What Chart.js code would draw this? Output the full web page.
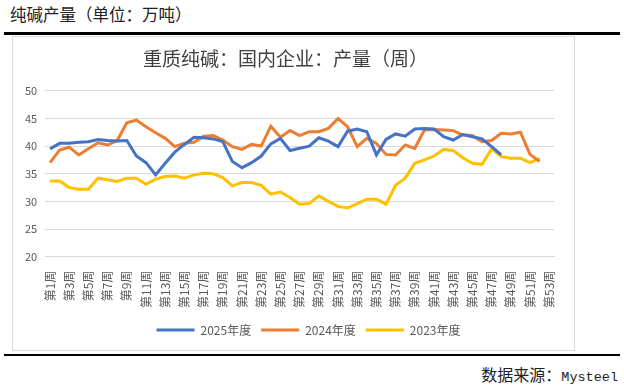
<!DOCTYPE html>
<html>
<head>
<meta charset="utf-8">
<script src="https://cdn.jsdelivr.net/npm/chart.js@4.4.1/dist/chart.umd.min.js"></script>
<style>
  html, body { margin: 0; padding: 0; background: #fff; }
  body { width: 624px; height: 386px; position: relative; overflow: hidden; font-family: "Noto Sans CJK SC", sans-serif; }
  #hdr { position: absolute; left: 10px; top: 2px; font-size: 16.5px; color: #222; line-height: 24px; }
  #line1 { position: absolute; left: 4px; top: 32px; width: 616px; height: 2.5px; background: #000; }
  #box { position: absolute; left: 12px; top: 36px; width: 563px; height: 315px; border: 1px solid #d9d9d9; box-sizing: border-box; }
  #box canvas { position: absolute; left: 0; top: 0; }
  #line2 { position: absolute; left: 4px; top: 354px; width: 616px; height: 2px; background: #000; }
  #src { position: absolute; right: 6px; top: 362px; font-size: 16px; color: #222; line-height: 24px; }
  #src .m { font-family: "Liberation Mono", monospace; font-size: 13.5px; }
</style>
</head>
<body>
<div id="hdr">纯碱产量（单位：万吨）</div>
<div id="line1"></div>
<div id="box"><canvas id="c" width="561" height="313"></canvas></div>
<div id="line2"></div>
<div id="src">数据来源：<span class="m">Mysteel</span></div>
<script>
const weeks = ["第1周","第2周","第3周","第4周","第5周","第6周","第7周","第8周","第9周","第10周",
  "第11周","第12周","第13周","第14周","第15周","第16周","第17周","第18周","第19周","第20周",
  "第21周","第22周","第23周","第24周","第25周","第26周","第27周","第28周","第29周","第30周",
  "第31周","第32周","第33周","第34周","第35周","第36周","第37周","第38周","第39周","第40周",
  "第41周","第42周","第43周","第44周","第45周","第46周","第47周","第48周","第49周","第50周",
  "第51周","第52周","第53周"];

const y2025 = [39.5,40.5,40.5,40.7,40.8,41.2,41.0,40.9,41.0,38.2,
  37.0,34.8,36.9,38.9,40.3,41.6,41.5,41.3,40.8,37.2,
  36.1,37.0,38.2,40.4,41.4,39.2,39.6,40.0,41.5,40.9,
  39.9,42.7,43.1,42.6,38.4,41.2,42.2,41.8,43.1,43.2,
  43.1,41.7,41.1,42.1,41.7,41.3,39.9,38.4,null,null,
  null,null,null];

const y2024 = [37.0,39.3,39.8,38.4,39.5,40.6,40.2,41.0,44.2,44.7,
  43.5,42.4,41.4,39.9,40.5,40.7,41.8,41.9,41.1,39.9,
  39.4,40.3,40.0,43.6,41.6,42.8,41.9,42.6,42.6,43.2,
  45.0,43.5,39.9,41.4,40.5,38.5,38.4,40.2,39.6,42.9,
  43.0,42.9,42.8,42.0,41.9,40.8,41.0,42.3,42.2,42.5,
  38.5,37.2,null];

const y2023 = [33.7,33.7,32.5,32.2,32.2,34.2,33.9,33.6,34.2,34.2,
  33.1,34.0,34.5,34.6,34.2,34.8,35.1,35.0,34.3,32.8,
  33.4,33.4,32.9,31.3,31.7,30.7,29.5,29.6,31.0,30.0,
  29.1,28.8,29.6,30.4,30.4,29.5,32.9,34.2,36.9,37.5,
  38.2,39.4,39.2,37.9,36.9,36.7,39.5,38.1,37.8,37.8,
  37.0,37.8,null];

const yTicks = [20,25,30,35,40,45,50];

const series = [
  { label: "2025年度", data: y2025, color: "#4472C4" },
  { label: "2024年度", data: y2024, color: "#ED7D31" },
  { label: "2023年度", data: y2023, color: "#FFC000" }
];

const FONT = "'Noto Sans CJK SC', sans-serif";

const legendShift = {
  id: "legendShift",
  afterLayout(chart) {
    if (chart.legend) { chart.legend.left += 23; chart.legend.right += 23; }
  }
};

new Chart(document.getElementById("c"), {
  type: "line",
  data: {
    labels: weeks,
    datasets: series.map(s => ({
      label: s.label,
      data: s.data,
      borderColor: s.color,
      backgroundColor: s.color,
      borderWidth: 3,
      pointRadius: 0,
      pointHoverRadius: 0,
      tension: 0,
      spanGaps: false
    }))
  },
  plugins: [legendShift],
  options: {
    responsive: false,
    animation: false,
    events: [],
    layout: { padding: { left: 4, right: 20, top: 0, bottom: 4 } },
    plugins: {
      title: {
        display: true,
        text: "重质纯碱：国内企业：产量（周）",
        color: "#404040",
        font: { family: FONT, size: 19, weight: "normal" },
        padding: { top: 10, bottom: 21 }
      },
      legend: {
        position: "bottom",
        labels: {
          usePointStyle: true,
          pointStyle: "line",
          pointStyleWidth: 38,
          boxHeight: 12,
          color: "#595959",
          font: { family: FONT, size: 12 },
          padding: 10
        }
      },
      tooltip: { enabled: false }
    },
    scales: {
      x: {
        offset: true,
        grid: { display: false },
        border: { display: true, color: "#d9d9d9", width: 1 },
        ticks: {
          autoSkip: false,
          maxRotation: 90,
          minRotation: 90,
          color: "#595959",
          font: { family: FONT, size: 12 },
          padding: 6,
          callback: function(v, i) { return i % 2 === 0 ? weeks[i] : ""; }
        }
      },
      y: {
        min: yTicks[0],
        max: yTicks[yTicks.length - 1],
        afterBuildTicks: function(axis) { axis.ticks = yTicks.map(v => ({ value: v })); },
        grid: { color: "#d9d9d9", lineWidth: 1, drawTicks: false },
        border: { display: false },
        ticks: {
          color: "#595959",
          font: { family: FONT, size: 11 },
          padding: 8
        }
      }
    }
  }
});
</script>
</body>
</html>
